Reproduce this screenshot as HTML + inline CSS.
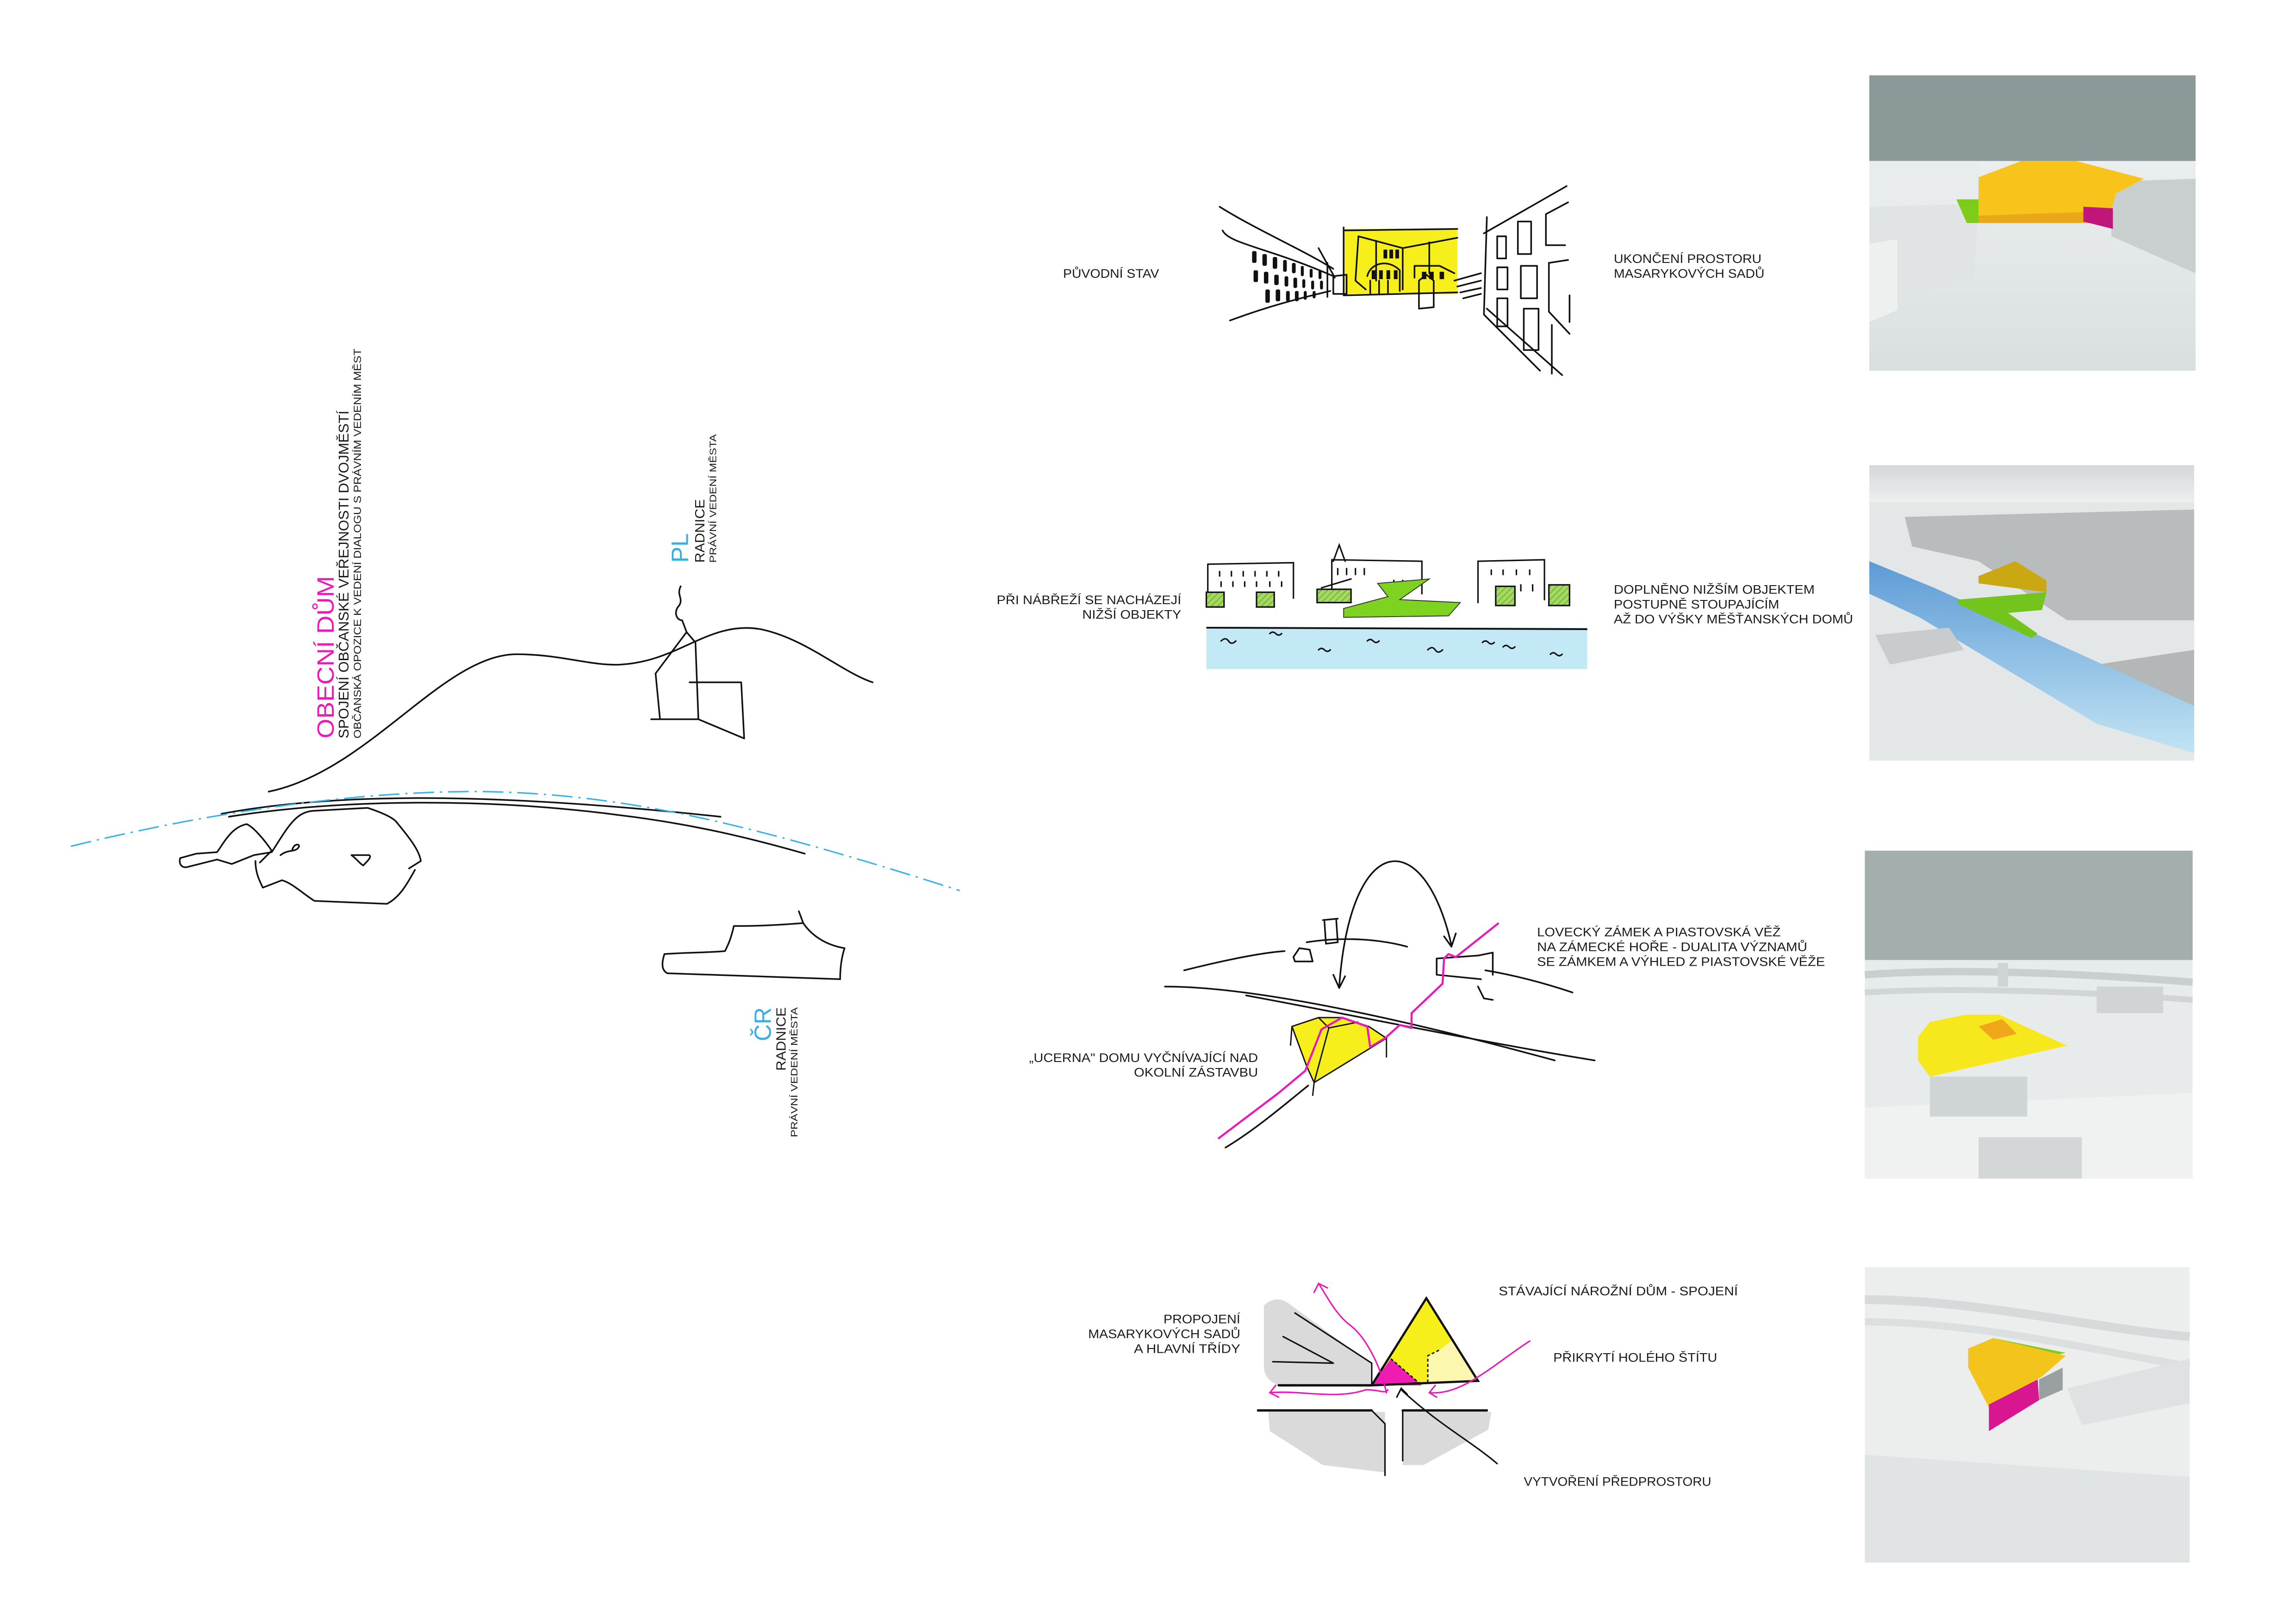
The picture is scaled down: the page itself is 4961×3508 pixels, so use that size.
<!DOCTYPE html>
<html><head><meta charset="utf-8"><style>
html,body{margin:0;padding:0;background:#fff;}
svg{display:block;}
text{font-family:"Liberation Sans Narrow","Liberation Sans",sans-serif;fill:#1a1a1a;}
</style></head><body>
<svg width="4961" height="3508" viewBox="0 0 1555 1099.6" preserveAspectRatio="none" xmlns="http://www.w3.org/2000/svg">
<defs>
<linearGradient id="g1" x1="0" y1="0" x2="0" y2="1"><stop offset="0" stop-color="#f2f4f4"/><stop offset="1" stop-color="#d9dfdf"/></linearGradient>
<linearGradient id="riv" x1="0" y1="0" x2="0" y2="1"><stop offset="0" stop-color="#5d9bd6"/><stop offset="1" stop-color="#c2e4f3"/></linearGradient>
<linearGradient id="sky2" x1="0" y1="0" x2="0" y2="1"><stop offset="0" stop-color="#d4d8d8"/><stop offset="1" stop-color="#eef0f0"/></linearGradient>
<pattern id="hatch" width="3" height="3" patternUnits="userSpaceOnUse" patternTransform="rotate(45)"><rect width="3" height="3" fill="#a9d66a"/><line x1="0" y1="0" x2="0" y2="3" stroke="#6cbf1f" stroke-width="1.4"/></pattern>
</defs>
<rect width="1555" height="1100" fill="#fff"/>

<!-- LEFT SKETCH -->
<g fill="none" stroke="#111" stroke-width="1.1" stroke-linecap="round" stroke-linejoin="round">
<path d="M182,536 C250,522 300,443 350,443 C380,443 400,451 420,450 C460,448 480,420 515,426 C545,432 570,455 591,462"/>
<path d="M150,551 C220,538 320,535 488,553"/>
<path d="M155,553 C230,541 330,540 420,552 C470,558 510,568 545,578"/>
<path d="M122,581 L133,578 L147,577 C152,570 157,560 167,558 C172,560 180,570 184,576 L176,584"/>
<path d="M122,581 C121,585 123,588 127,587 L147,582 L157,585 L172,579 L184,577 C195,560 200,550 212,549 L249,547 C258,550 265,553 268,556 C278,568 284,576 285,583 L277,588"/>
<path d="M281,589 C275,600 270,608 262,612 L213,610 C205,605 198,598 191,596 L178,601 C175,595 173,590 173,583"/>
<path d="M190,579 C195,575 200,577 202,574 C204,572 200,570 198,575"/>
<path d="M238,579 C242,582 244,585 246,586 C249,583 252,580 250,579 Z"/>
<path d="M461,397 C458,403 463,405 460,410 C456,414 458,420 462,420 M444,456 L465,428 L471,435 L473,487 M444,456 L447,487 M441,487 L473,487 L504,500 M467,462 L502,462 L504,500 M462,420 L465,428"/>
<path d="M450,646 C448,652 448,657 452,659 L569,663 C569,655 570,648 572,642 C560,640 550,634 544,625 L541,617 M544,625 C520,627 505,627 497,627 C495,636 493,640 491,644 C480,645 462,645 450,646"/>
</g>
<path d="M48,573 C150,548 250,535 330,536 C420,538 500,555 650,603" fill="none" stroke="#3ab4e6" stroke-width="1" stroke-dasharray="14,4,1.5,4"/>

<text transform="translate(226,500) rotate(-90)" font-size="16" textLength="110" lengthAdjust="spacingAndGlyphs" style="fill:#ec1bb6;font-family:'Liberation Sans',sans-serif">OBECNÍ DŮM</text>
<text transform="translate(236,500) rotate(-90)" font-size="9.5" textLength="222" lengthAdjust="spacingAndGlyphs">SPOJENÍ OBČANSKÉ VEŘEJNOSTI DVOJMĚSTÍ</text>
<text transform="translate(244.5,500) rotate(-90)" font-size="7" textLength="264" lengthAdjust="spacingAndGlyphs">OBČANSKÁ OPOZICE K VEDENÍ DIALOGU S PRÁVNÍM VEDENÍM MĚST</text>
<text transform="translate(466,381) rotate(-90)" font-size="16" textLength="20" lengthAdjust="spacingAndGlyphs" style="fill:#35aee2;font-family:'Liberation Sans',sans-serif">PL</text>
<text transform="translate(477,381) rotate(-90)" font-size="9" textLength="43" lengthAdjust="spacingAndGlyphs">RADNICE</text>
<text transform="translate(485,381) rotate(-90)" font-size="6.5" textLength="87" lengthAdjust="spacingAndGlyphs">PRÁVNÍ VEDENÍ MĚSTA</text>
<text transform="translate(522,705) rotate(-90)" font-size="16" textLength="23" lengthAdjust="spacingAndGlyphs" style="fill:#35aee2;font-family:'Liberation Sans',sans-serif">ČR</text>
<text transform="translate(532,725) rotate(-90)" font-size="9" textLength="43" lengthAdjust="spacingAndGlyphs">RADNICE</text>
<text transform="translate(540,770) rotate(-90)" font-size="6.5" textLength="88" lengthAdjust="spacingAndGlyphs">PRÁVNÍ VEDENÍ MĚSTA</text>

<!-- LABELS -->
<g font-size="8.5">
<text x="720" y="188" textLength="65" lengthAdjust="spacingAndGlyphs">PŮVODNÍ STAV</text>
<text x="1093" y="178" textLength="100" lengthAdjust="spacingAndGlyphs">UKONČENÍ PROSTORU</text>
<text x="1093" y="188" textLength="102" lengthAdjust="spacingAndGlyphs">MASARYKOVÝCH SADŮ</text>
<text x="675" y="409" textLength="125" lengthAdjust="spacingAndGlyphs">PŘI NÁBŘEŽÍ SE NACHÁZEJÍ</text>
<text x="733" y="419" textLength="67" lengthAdjust="spacingAndGlyphs">NIŽŠÍ OBJEKTY</text>
<text x="1093" y="402" textLength="136" lengthAdjust="spacingAndGlyphs">DOPLNĚNO NIŽŠÍM OBJEKTEM</text>
<text x="1093" y="412" textLength="112" lengthAdjust="spacingAndGlyphs">POSTUPNĚ STOUPAJÍCÍM</text>
<text x="1093" y="422" textLength="162" lengthAdjust="spacingAndGlyphs">AŽ DO VÝŠKY MĚŠŤANSKÝCH DOMŮ</text>
<text x="1041" y="634" textLength="165" lengthAdjust="spacingAndGlyphs">LOVECKÝ ZÁMEK A PIASTOVSKÁ VĚŽ</text>
<text x="1041" y="644" textLength="183" lengthAdjust="spacingAndGlyphs">NA ZÁMECKÉ HOŘE - DUALITA VÝZNAMŮ</text>
<text x="1041" y="654" textLength="195" lengthAdjust="spacingAndGlyphs">SE ZÁMKEM A VÝHLED Z PIASTOVSKÉ VĚŽE</text>
<text x="697" y="719" textLength="155" lengthAdjust="spacingAndGlyphs">„UCERNA" DOMU VYČNÍVAJÍCÍ NAD</text>
<text x="768" y="729" textLength="84" lengthAdjust="spacingAndGlyphs">OKOLNÍ ZÁSTAVBU</text>
<text x="788" y="896" textLength="52" lengthAdjust="spacingAndGlyphs">PROPOJENÍ</text>
<text x="737" y="906" textLength="103" lengthAdjust="spacingAndGlyphs">MASARYKOVÝCH SADŮ</text>
<text x="768" y="916" textLength="72" lengthAdjust="spacingAndGlyphs">A HLAVNÍ TŘÍDY</text>
<text x="1015" y="877" textLength="162" lengthAdjust="spacingAndGlyphs">STÁVAJÍCÍ NÁROŽNÍ DŮM - SPOJENÍ</text>
<text x="1052" y="922" textLength="111" lengthAdjust="spacingAndGlyphs">PŘIKRYTÍ HOLÉHO ŠTÍTU</text>
<text x="1032" y="1006" textLength="127" lengthAdjust="spacingAndGlyphs">VYTVOŘENÍ PŘEDPROSTORU</text>
</g>

<!-- SKETCH 1 street -->
<rect x="910" y="155" width="77" height="44" fill="#f6ef1c"/>
<g fill="none" stroke="#111" stroke-width="1.1" stroke-linecap="round" stroke-linejoin="round">
<path d="M826,140 C850,155 880,168 903,182"/>
<path d="M828,156 C832,165 860,168 903,187"/>
<path d="M833,217 C860,207 880,202 901,197"/>
<path d="M899,178 L899,201 M893,168 L904,188"/>
<path d="M903,187 L912,186 L912,199 L903,199 Z"/>
<path d="M911,156 L987,155 M910,200 L987,198 M910,154 L910,200"/>
<path d="M920,160 L950,168 L987,161 M920,160 L918,190 L925,196 M950,168 L950,196 M932,163 L932,190 M968,164 L968,185"/>
<path d="M926,187 C928,178 940,175 948,183 L948,197 M928,190 L928,199 M934,190 L934,199 M940,190 L940,199"/>
<path d="M958,188 L958,180 L975,180 L985,185 M961,197 L961,190 L966,186 L971,190 L971,208 L961,209 Z"/>
<path d="M985,190 L1003,185 M987,194 L1003,190 M989,198 L1003,195 M991,202 L1003,199"/>
<path d="M1005,158 L1061,126 M1007,147 L1005,213 L1043,251 M1007,209 L1058,254 M1062,137 L1047,145 L1047,166 L1060,166 M1049,178 L1062,176 M1049,178 L1049,211 L1063,226 M1051,220 L1051,253 M1063,218 L1063,200"/>
<rect x="1014" y="160" width="6" height="15"/><rect x="1028" y="150" width="9" height="22"/>
<rect x="1014" y="181" width="7" height="15"/><rect x="1030" y="180" width="11" height="22"/>
<rect x="1014" y="202" width="7" height="19"/><rect x="1032" y="209" width="10" height="28"/>
</g>
<g fill="#111">
<rect x="848" y="170" width="3" height="8" rx="1"/><rect x="855" y="172" width="3" height="8" rx="1"/><rect x="862" y="174" width="3" height="8" rx="1"/><rect x="869" y="176" width="2.5" height="8" rx="1"/><rect x="875" y="178" width="2.5" height="7" rx="1"/><rect x="881" y="180" width="2" height="7" rx="1"/><rect x="887" y="182" width="2" height="6" rx="1"/><rect x="893" y="183" width="2" height="6" rx="1"/>
<rect x="849" y="183" width="3" height="8" rx="1"/><rect x="856" y="184" width="3" height="8" rx="1"/><rect x="863" y="186" width="3" height="7" rx="1"/><rect x="870" y="187" width="2.5" height="7" rx="1"/><rect x="876" y="188" width="2.5" height="7" rx="1"/><rect x="882" y="189" width="2" height="6" rx="1"/><rect x="888" y="190" width="2" height="6" rx="1"/><rect x="894" y="190" width="2" height="6" rx="1"/>
<rect x="857" y="196" width="3" height="9" rx="1"/><rect x="864" y="196" width="3" height="8" rx="1"/><rect x="871" y="197" width="2.5" height="7" rx="1"/><rect x="877" y="197" width="2.5" height="7" rx="1"/><rect x="883" y="197" width="2" height="6" rx="1"/><rect x="889" y="197" width="2" height="5" rx="1"/>
<rect x="937" y="169" width="2.5" height="6"/><rect x="941" y="169" width="2.5" height="6"/><rect x="945" y="169" width="2.5" height="6"/>
<rect x="929" y="183" width="2.5" height="6"/><rect x="934" y="183" width="2.5" height="6"/><rect x="939" y="183" width="2.5" height="6"/><rect x="944" y="183" width="2.5" height="6"/>
<rect x="963" y="184" width="3" height="5"/><rect x="968" y="184" width="3" height="5"/><rect x="975" y="184" width="3" height="5"/>
</g>

<!-- SKETCH 2 river -->
<rect x="817" y="425" width="258" height="28" fill="#c4e9f6"/>
<line x1="817" y1="425" x2="1075" y2="426" stroke="#111" stroke-width="1.2"/>
<g fill="none" stroke="#111" stroke-width="1" stroke-linecap="round">
<path d="M827,434 q3,-3 5,0 t5,0"/><path d="M860,429 q2,-2 4,0 t4,0"/><path d="M893,440 q2,-2 4,0 t4,0"/><path d="M926,434 q2,-2 4,0 t4,0"/><path d="M967,440 q3,-3 5,0 t5,0"/><path d="M1004,435 q2,-2 4,0 t4,0"/><path d="M1018,438 q2,-2 4,0 t4,0"/><path d="M1050,443 q2,-2 4,0 t4,0"/>
<path d="M818,382 L876,381 L876,405 M818,382 L818,404"/>
<path d="M902,403 L902,379 L963,380 L963,402 M903,380 L907,369 L911,380"/>
<path d="M1001,408 L1001,380 L1046,379 L1046,406"/>
<path d="M895,398 L915,392"/>
<path d="M826,387 v3 M834,387 v3 M842,387 v3 M850,387 v3 M858,387 v3 M866,387 v3 M827,394 v3 M835,394 v3 M843,394 v3 M851,394 v3 M860,394 v3 M868,394 v3 M906,385 v4 M912,385 v4 M918,385 v4 M924,385 v4 M944,393 v4 M950,393 v4 M1010,386 v3 M1018,386 v3 M1027,386 v3 M1036,386 v3 M1030,396 v4 M1038,396 v4"/>
</g>
<g stroke="#111" stroke-width="1">
<rect x="817" y="401" width="12" height="10" fill="url(#hatch)"/>
<rect x="851" y="401" width="12" height="10" fill="url(#hatch)"/>
<rect x="892" y="399" width="23" height="9" fill="url(#hatch)"/>
<rect x="1013" y="397" width="13" height="13" fill="url(#hatch)"/>
<rect x="1049" y="396" width="14" height="14" fill="url(#hatch)"/>
</g>
<polygon points="933,395 968,392 948,406 989,408 981,417 910,418 910,412 940,404" fill="#7ed321" stroke="#333" stroke-width="0.6"/>

<!-- SKETCH 3 -->
<g fill="none" stroke="#111" stroke-width="1.1" stroke-linecap="round" stroke-linejoin="round">
<path d="M802,657 C830,650 855,645 870,644"/>
<path d="M885,638 C910,634 935,636 953,641"/>
<path d="M1006,657 C1030,661 1050,667 1065,672"/>
<path d="M789,668 C850,668 950,690 1053,718"/>
<path d="M844,674 C920,688 1000,705 1080,718"/>
<path d="M830,777 C850,765 870,748 886,735"/>
<path d="M896,623 L906,622 M897,624 L898,639 L906,638 L905,623"/>
<path d="M876,648 L880,642 L887,643 L889,651 L877,651 Z"/>
<path d="M973,649 L1001,647 L1011,645 L1011,660 M973,649 L973,660 L1003,663 M1001,668 L1005,676 L1011,677"/>
<path d="M907,668 C915,560 965,560 983,640"/>
<path d="M903,660 L907,669 L911,661 M978,634 L983,641 L986,632"/>
</g>
<polygon points="875,695 893,689 909,689 927,695 939,703 890,733 885,722" fill="#f6ef1c" stroke="#111" stroke-width="0.9"/>
<g fill="none" stroke="#111" stroke-width="0.9"><path d="M875,695 L874,708 M890,733 L889,742 M939,703 L939,716 M893,689 L900,696 L890,733 M900,696 L920,692"/></g>
<path d="M825,771 L866,740 L884,725 L895,697 L909,689 L926,695 L928,709 L938,703 L948,694 L956,696 L956,686 L977,666 L978,649 L981,646 L986,648 L1015,625" fill="none" stroke="#ea1ab8" stroke-width="1.4" stroke-linejoin="round"/>

<!-- SKETCH 4 -->
<g fill="#dadada">
<path d="M856,884 C860,880 866,878 872,882 L928,923 L928,938 L866,938 C858,935 856,930 856,925 Z"/>
<path d="M859,956 L938,956 L938,997 L896,992 L860,969 Z"/>
<path d="M950,956 L1010,956 L1008,968 L964,992 L950,992 Z"/>
</g>
<g fill="none" stroke="#111" stroke-width="1" stroke-linecap="round">
<path d="M877,889 L929,923 M869,905 L903,923 M862,922 L903,923 M929,923 L929,938"/>
<path d="M866,938 L929,938" stroke-width="1.6"/>
<path d="M852,955 L929,955 M950,955 L1007,955" stroke-width="1.6"/>
<path d="M929,955 L938,964 L938,999 M950,955 L950,989"/>
<path d="M1014,991 C995,975 975,965 949,941 M946,946 L949,940 L953,944"/>
</g>
<polygon points="966,879 1001,935 929,938" fill="#f6ef1c"/>
<polygon points="984,907 1001,935 967,936 967,918 975,914" fill="#fbf7ae"/>
<polygon points="942,920 929,938 963,938" fill="#ee1cb0"/>
<path d="M929,938 L966,879 L1001,935 L929,938" fill="none" stroke="#111" stroke-width="1.5"/>
<path d="M942,920 L963,938 M967,936 L967,918 L975,914" fill="none" stroke="#111" stroke-width="0.9" stroke-dasharray="2,1.5"/>
<g fill="none" stroke="#ea1ab8" stroke-width="1" stroke-linecap="round">
<path d="M939,943 C935,925 925,905 914,897 C905,890 900,880 893,869 M890,875 L893,869 L899,872"/>
<path d="M860,943 C880,941 905,948 925,941 C935,941 938,944 940,941 M864,938 L860,943 L866,946"/>
<path d="M1036,908 C1010,925 990,945 968,943 M972,938 L968,943 L973,946"/>
</g>

<!-- RENDER 1 -->
<rect x="1266" y="51" width="221" height="200" fill="url(#g1)"/>
<rect x="1266" y="51" width="221" height="58" fill="#8b9a99"/>
<path d="M1266,109 L1340,109 L1340,140 L1266,140 Z" fill="#e9ecec"/>
<path d="M1266,140 L1340,138 L1337,190 L1266,205 Z" fill="#e0e4e4"/>
<path d="M1266,165 L1285,162 L1285,210 L1266,218 Z" fill="#eef0f0"/>
<path d="M1430,123 L1487,121 L1487,185 L1430,160 Z" fill="#c9cfcf"/>
<polygon points="1340,120 1369,109 1406,109 1452,121 1433,131 1429,146 1340,146" fill="#f8c41c"/>
<polygon points="1340,146 1429,143 1429,151 1340,151" fill="#e8a81a"/>
<polygon points="1325,135 1340,135 1340,151 1332,151" fill="#7ecb1a"/>
<polygon points="1411,140 1431,141 1431,155 1411,150" fill="#c0157a"/>

<!-- RENDER 2 -->
<rect x="1266" y="315" width="220" height="200" fill="#e4e7e7"/>
<rect x="1266" y="315" width="220" height="25" fill="url(#sky2)"/>
<path d="M1290,350 L1486,345 L1486,420 L1400,420 L1340,380 L1295,370 Z" fill="#b8bcbc"/>
<path d="M1420,450 L1486,440 L1486,478 L1440,470 Z" fill="#b3b7b7"/>
<path d="M1266,380 L1310,398 L1486,478 L1486,510 L1420,490 L1300,418 L1266,402 Z" fill="url(#riv)"/>
<path d="M1270,430 L1320,425 L1330,440 L1280,450 Z" fill="#c9cccc"/>
<polygon points="1340,390 1365,380 1386,393 1386,401 1340,395" fill="#c9a814"/>
<polygon points="1326,406 1386,401 1383,413 1360,415 1380,429 1376,432 1326,409" fill="#74c41e"/>

<!-- RENDER 3 -->
<rect x="1263" y="576" width="222" height="222" fill="#e8ebeb"/>
<rect x="1263" y="576" width="222" height="74" fill="#a3afad"/>
<path d="M1263,660 C1330,655 1420,660 1485,665" fill="none" stroke="#c9cfcf" stroke-width="5"/>
<path d="M1263,672 C1330,668 1420,672 1485,677" fill="none" stroke="#d0d5d5" stroke-width="4"/>
<rect x="1353" y="652" width="7" height="16" fill="#cfd3d3"/>
<rect x="1420" y="668" width="45" height="18" fill="#d0d4d4"/>
<path d="M1263,750 L1485,740 L1485,798 L1263,798 Z" fill="#f0f2f2"/>
<rect x="1340" y="770" width="70" height="28" fill="#d3d7d7"/>
<rect x="1307" y="729" width="66" height="27" fill="#cfd4d4"/>
<polygon points="1299,702 1307,692 1331,687 1354,687 1400,708 1307,729 1299,718" fill="#f6e81c"/>
<polygon points="1340,695 1356,690 1366,700 1350,704" fill="#f0a81a"/>

<!-- RENDER 4 -->
<rect x="1263" y="858" width="220" height="200" fill="#eceeee"/>
<path d="M1263,880 C1340,880 1420,900 1483,905" fill="none" stroke="#d6dada" stroke-width="6"/>
<path d="M1263,895 C1340,895 1420,915 1483,925" fill="none" stroke="#dbdfdf" stroke-width="5"/>
<path d="M1263,985 L1483,1000 L1483,1058 L1263,1058 Z" fill="#e0e4e4"/>
<path d="M1400,940 L1483,920 L1483,950 L1410,965 Z" fill="#dfe2e2"/>
<polygon points="1350,906 1399,916 1390,918 1352,910" fill="#7ecb1a"/>
<polygon points="1333,913 1350,906 1399,918 1383,932 1347,953 1333,926" fill="#f3c41c"/>
<polygon points="1347,951 1380,934 1381,948 1347,969" fill="#d8168f"/>
<polygon points="1381,934 1397,926 1397,941 1381,948" fill="#9aa0a0"/>
</svg>
</body></html>
